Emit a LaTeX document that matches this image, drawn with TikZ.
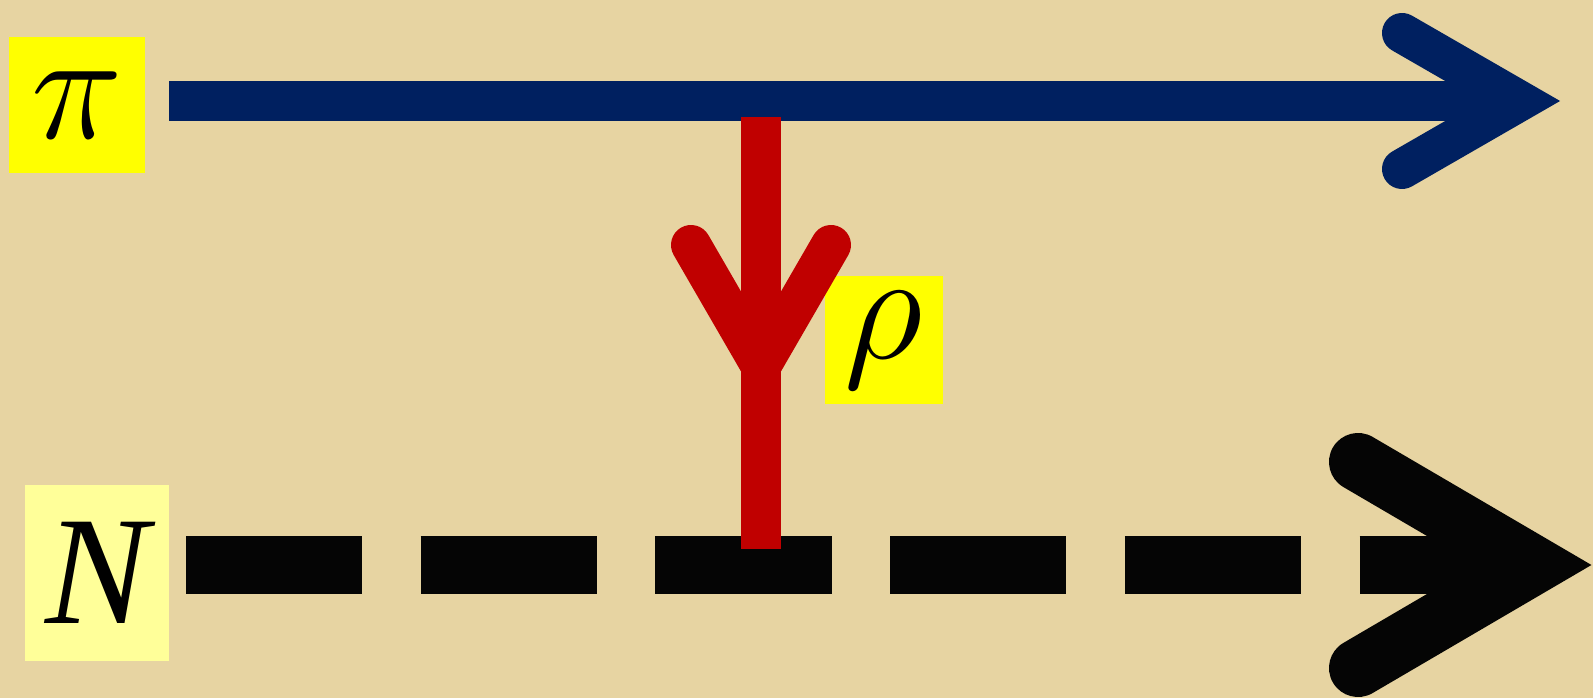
\RequirePackage{fix-cm}
\documentclass[tikz,border=0pt]{standalone}
\usepackage{fontspec}
\setmainfont{Liberation Serif}
\usetikzlibrary{positioning}
\definecolor{parchment}{RGB}{231,212,162}
\definecolor{pionblue}{RGB}{0,32,96}
\definecolor{rhored}{RGB}{192,0,0}
\definecolor{nucleonblack}{RGB}{5,5,5}
\definecolor{labelyellow}{RGB}{255,255,0}
\definecolor{paleyellow}{RGB}{255,255,153}
\tikzset{
  labelbox/.style={fill=labelyellow, inner sep=0pt, text=black,
                   font=\fontsize{44}{50}\selectfont\itshape},
  shaft/.style={line width=0.4cm, line cap=butt},
  barbs/.style={line width=0.4cm, line cap=round, line join=miter},
  nucleon/.style={line width=0.58cm, nucleonblack}
}

\begin{document}
\begin{tikzpicture}[x=0.01cm, y=-0.01cm]
  \fill[parchment] (0,0) rectangle (1593,698);
  \useasboundingbox (0,0) rectangle (1593,698);

  % labels
  \node[labelbox, minimum width=1.36cm, minimum height=1.36cm] (pi) at (77,105) {$\pi$};
  \node[labelbox, minimum width=1.18cm, minimum height=1.27cm] (rho) at (884,340) {$\rho$};
  \node[labelbox, fill=paleyellow, minimum width=1.44cm, minimum height=1.76cm] (N) at (97,573) {N};

  % pion line
  \coordinate (pistart) at (169,101);
  \coordinate (piend) at (1520,101);
  \coordinate (pibarbup) at (1402,33);
  \coordinate (pibarbdown) at (1402,169);
  \draw[shaft, pionblue] (pistart) -- (piend);
  \draw[barbs, pionblue] (pibarbup) -- (piend) -- (pibarbdown);

  % nucleon line
  \coordinate (Nstart) at (186,565);
  \coordinate (Nend) at (1534,565);
  \coordinate (Nbarbup) at (1358,462);
  \coordinate (Nbarbdown) at (1358,668);
  \draw[nucleon, line cap=butt, dash pattern=on 1.76cm off 0.586cm] (Nstart) -- (Nend);
  \draw[nucleon, line cap=round, line join=miter] (Nbarbup) -- (Nend) -- (Nbarbdown);

  % rho exchange
  \coordinate (rhotop) at (761,117);
  \coordinate (rhobottom) at (761,549);
  \coordinate (rhotip) at (761,366);
  \draw[shaft, rhored] (rhotop) -- (rhobottom);
  \draw[barbs, rhored] (691,245) -- (rhotip) -- (831,245);
\end{tikzpicture}
\end{document}
